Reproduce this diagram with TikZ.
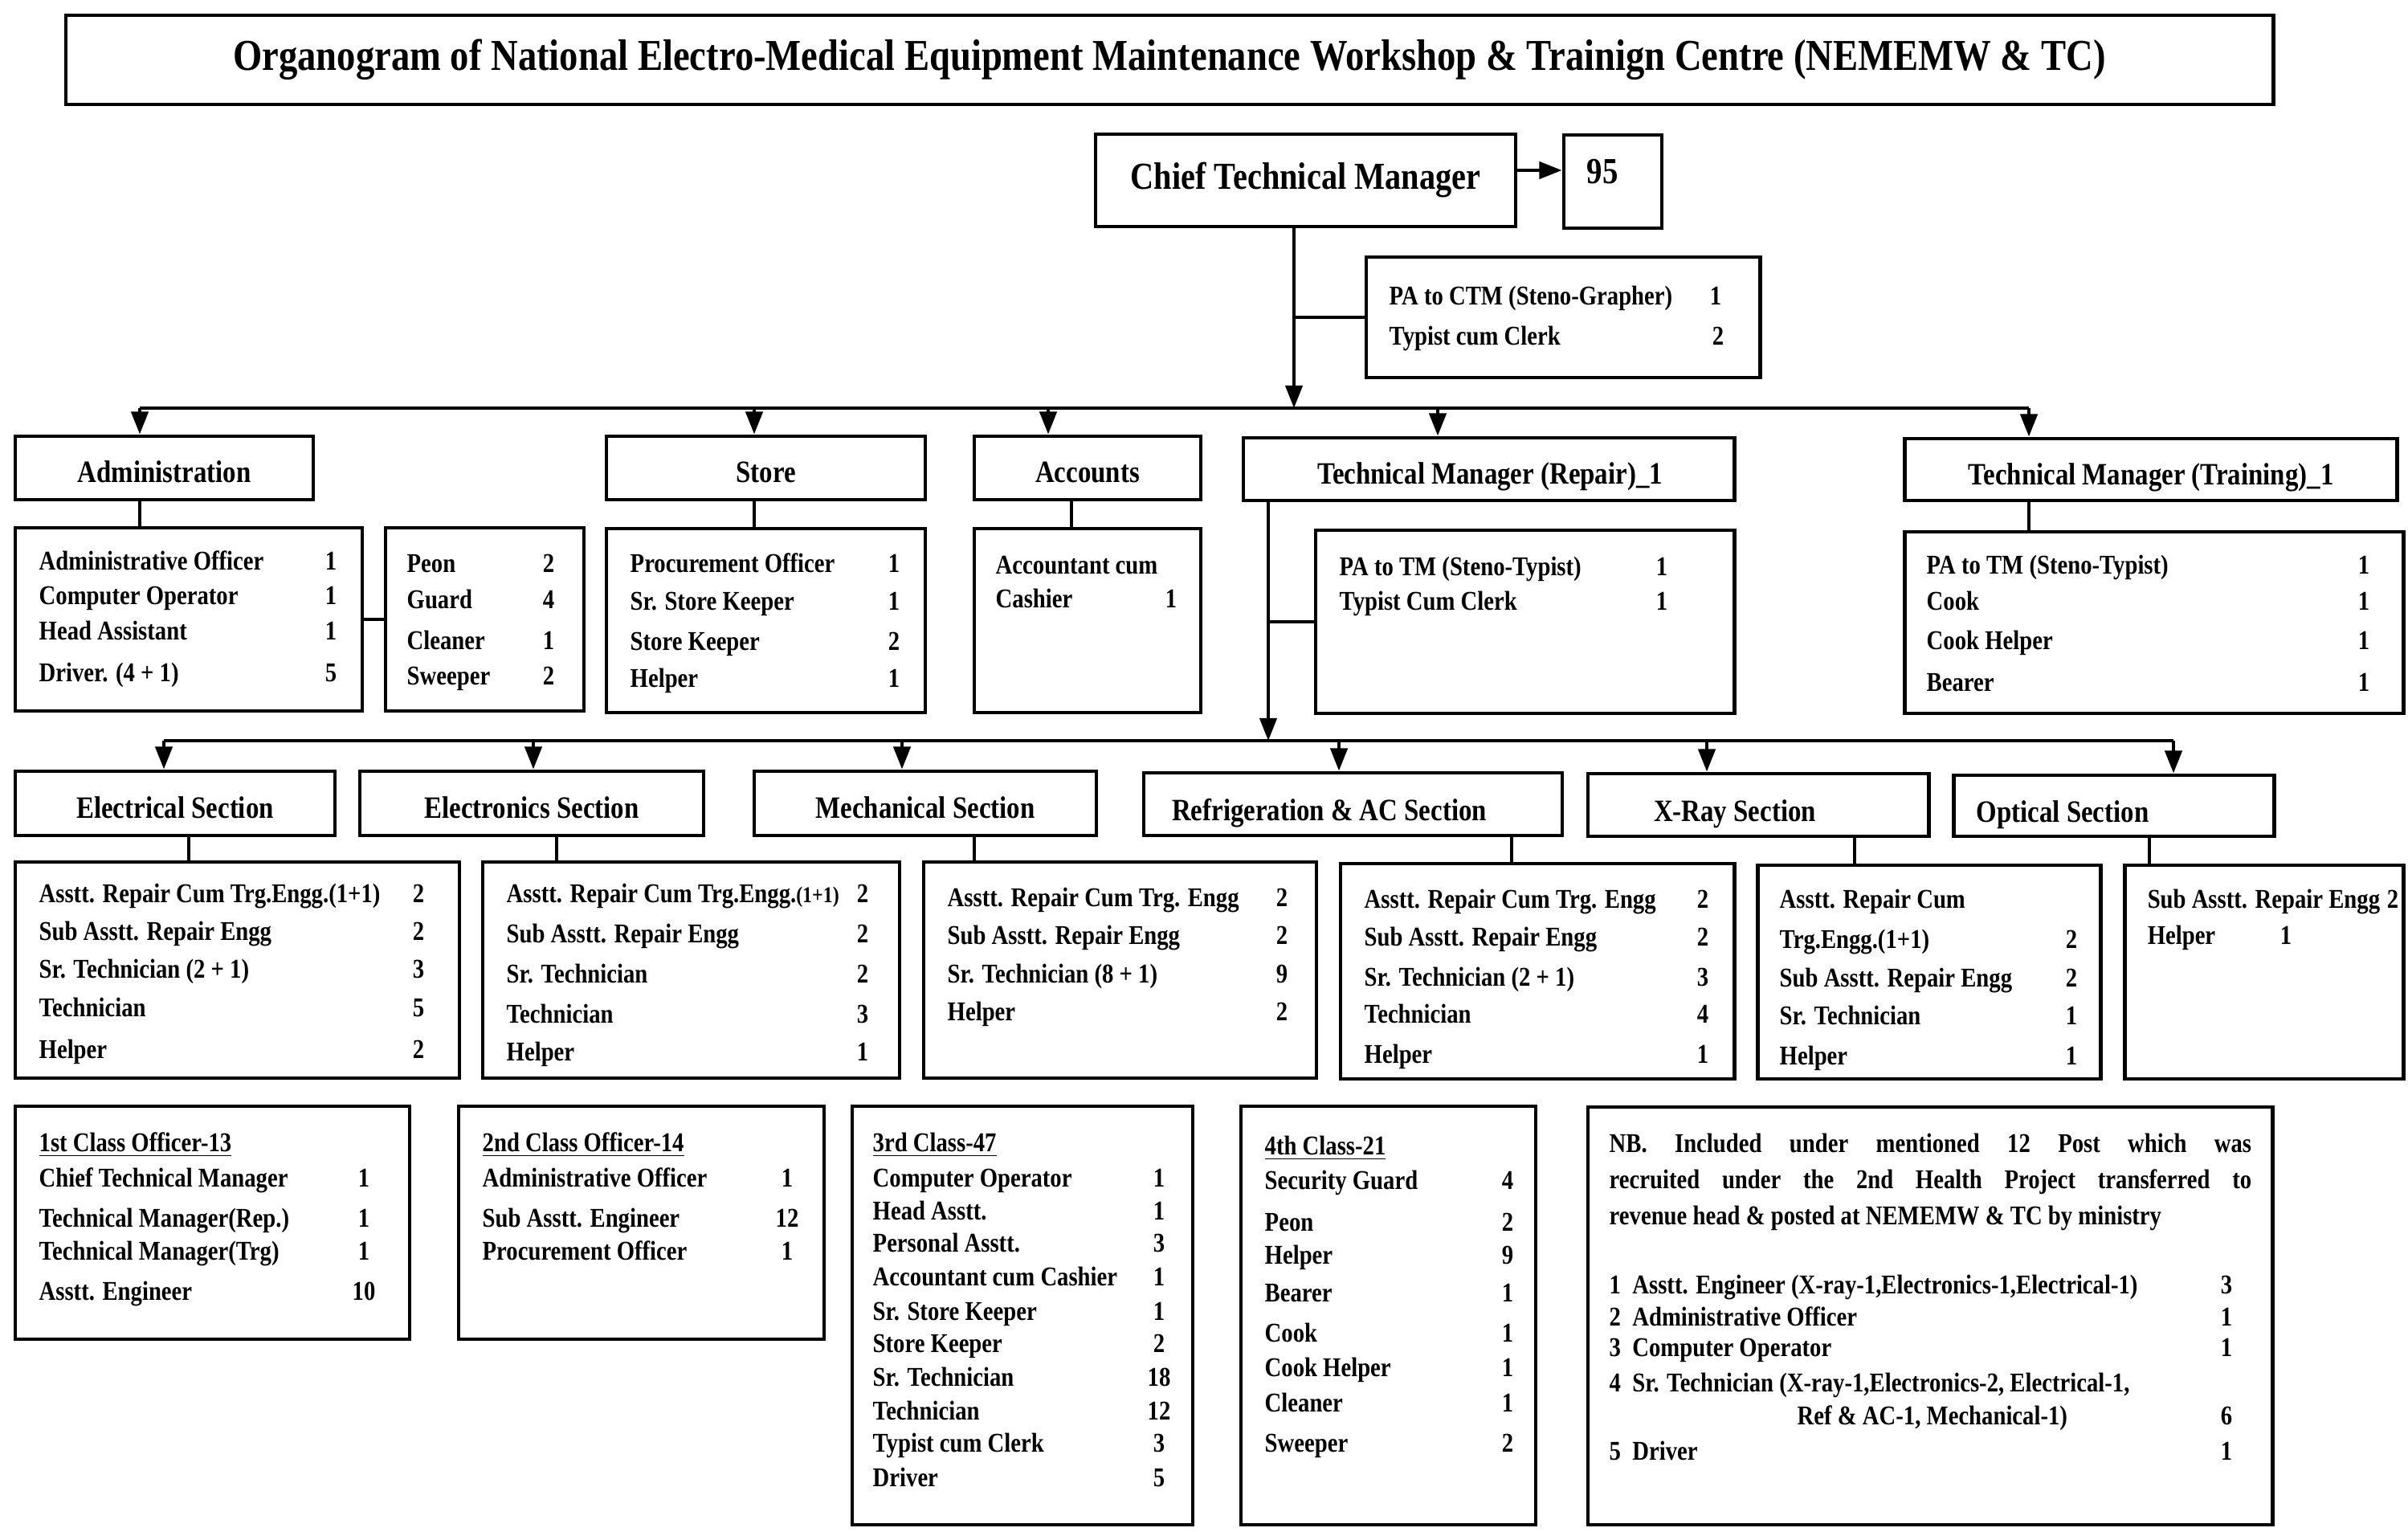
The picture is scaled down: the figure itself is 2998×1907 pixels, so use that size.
\documentclass[tikz,border=0pt]{standalone}
\usepackage{fontspec}
\setmainfont{Liberation Serif}[FakeStretch=0.85]
\usetikzlibrary{arrows.meta,fit}
\newcount\tcnt
\newcommand\mkbox[5]{%
  \coordinate (#1-a) at (#2,#3);
  \coordinate (#1-b) at (#4,#5);
  \node[box, fit=(#1-a)(#1-b)] (#1) {};}
\newcommand\rw[5]{%
  \global\advance\tcnt by 1
  \node[it] (r\the\tcnt) at (#1,#2+10) {#3};
  \if\relax\detokenize{#5}\relax\else
  \global\advance\tcnt by 1
  \node[nu] (r\the\tcnt) at (#4,#2+10) {#5};\fi}
\begin{document}
\begin{tikzpicture}[x=0.01cm,y=-0.01cm,
  box/.style={draw, line width=1.4pt, inner sep=0pt},
  ln/.style={line width=1.2pt},
  arr/.style={line width=1.2pt, -{Triangle[length=8pt,width=6pt]}},
  hd/.style={font=\bfseries\fontsize{11}{13}\selectfont, inner sep=0pt, text height=1.6ex, text depth=0.45ex, yshift=-2.5pt},
  it/.style={font=\bfseries\fontsize{9.6}{12}\selectfont, inner sep=0pt, anchor=base west},
  nu/.style={font=\bfseries\fontsize{9.6}{12}\selectfont, inner sep=0pt, anchor=base}]
\useasboundingbox (0,0) rectangle (2998,1907);
% title
\mkbox{title}{82}{19}{2830}{130}
\node[font=\bfseries\fontsize{15.6}{18}\selectfont, inner sep=0pt] (ttl) at (title) {Organogram of National Electro-Medical Equipment Maintenance Workshop \& Trainign Centre (NEMEMW \& TC)};
% chief
\mkbox{ctm}{1364}{167}{1887}{282}
\node[font=\bfseries\fontsize{13.5}{16}\selectfont, inner sep=0pt] (ctmt) at (ctm) {Chief Technical Manager};
\mkbox{n95}{1947}{168}{2069}{284}
\node[font=\bfseries\fontsize{13}{16}\selectfont, inner sep=0pt] (n95t) at (1995,214) {95};
\coordinate (a95) at (1887,212);
\draw[arr] (a95) -- (a95 -| n95.west);
\mkbox{pa}{1701}{320}{2191}{470}
\rw{1729}{370}{PA to CTM (Steno-Grapher)}{2136}{1}
\rw{1729}{420}{Typist cum Clerk}{2139}{2}
\coordinate (vT) at (1611,508);
\draw[arr] (vT |- ctm.south) -- (vT);
\draw[ln] (vT |- pa.west) -- (pa.west);
% upper row boxes
\mkbox{admin}{19}{543}{390}{622}
\mkbox{store}{755}{543}{1152}{622}
\mkbox{acc}{1213}{543}{1495}{622}
\mkbox{tmr}{1548}{545}{2159}{623}
\mkbox{tmt}{2371}{546}{2984}{623}
\node[hd] (admint) at (admin) {Administration};
\node[hd] (storet) at (store) {Store};
\node[hd] (acct) at (acc) {Accounts};
\node[hd] (tmrt) at (1855,584) {Technical Manager (Repair)\_1};
\node[hd] (tmtt) at (2678,585) {Technical Manager (Training)\_1};
\coordinate (bA) at (174,508);
\coordinate (bS) at (939,508);
\coordinate (bC) at (1305,508);
\coordinate (bR) at (1790,508);
\coordinate (bT) at (2526,508);
\draw[ln] (bA) -- (bT);
\foreach \c/\n in {bA/admin,bS/store,bC/acc,bR/tmr,bT/tmt}
  \draw[arr] (\c) -- (\c |- \n.north);
% upper detail boxes
\mkbox{admind}{19}{657}{451}{885}
\mkbox{peon}{480}{657}{727}{885}
\mkbox{stored}{755}{658}{1152}{887}
\mkbox{accd}{1213}{658}{1495}{887}
\mkbox{tmrd}{1638}{660}{2159}{888}
\mkbox{tmtd}{2371}{662}{2992}{888}
\coordinate (cC) at (1334,600);
\draw[ln] (bA |- admin.south) -- (bA |- admind.north);
\draw[ln] (bS |- store.south) -- (bS |- stored.north);
\draw[ln] (cC |- acc.south) -- (cC |- accd.north);
\draw[ln] (bT |- tmt.south) -- (bT |- tmtd.north);
\draw[ln] (admind.east) -- (peon.west);
\rw{48}{700}{Administrative Officer}{412}{1}
\rw{48}{742}{Computer Operator}{412}{1}
\rw{48}{787}{Head Assistant}{412}{1}
\rw{48}{838}{Driver. (4 + 1)}{412}{5}
\rw{506}{703}{Peon}{683}{2}
\rw{506}{748}{Guard}{683}{4}
\rw{506}{798}{Cleaner}{683}{1}
\rw{506}{842}{Sweeper}{683}{2}
\rw{784}{702}{Procurement Officer}{1113}{1}
\rw{784}{750}{Sr. Store Keeper}{1113}{1}
\rw{784}{800}{Store Keeper}{1113}{2}
\rw{784}{845}{Helper}{1113}{1}
\rw{1239}{705}{Accountant cum}{}{}
\rw{1239}{747}{Cashier}{1458}{1}
\rw{1667}{707}{PA to TM (Steno-Typist)}{2069}{1}
\rw{1667}{750}{Typist Cum Clerk}{2069}{1}
\rw{2398}{705}{PA to TM (Steno-Typist)}{2943}{1}
\rw{2398}{750}{Cook}{2943}{1}
\rw{2398}{798}{Cook Helper}{2943}{1}
\rw{2398}{850}{Bearer}{2943}{1}
% TM repair to sections
\coordinate (vR) at (1579,922);
\draw[arr] (vR |- tmr.south) -- (vR);
\draw[ln] (vR |- tmrd.west) -- (tmrd.west);
% section headers
\mkbox{elec}{19}{960}{417}{1040}
\mkbox{elnx}{448}{960}{876}{1040}
\mkbox{mech}{939}{960}{1365}{1040}
\mkbox{refr}{1424}{962}{1945}{1040}
\mkbox{xray}{1977}{963}{2401}{1041}
\mkbox{opt}{2432}{965}{2831}{1041}
\node[hd] (elect) at (elec) {Electrical Section};
\node[hd] (elnxt) at (elnx) {Electronics Section};
\node[hd] (mecht) at (mech) {Mechanical Section};
\node[hd] (refrt) at (1655,1003) {Refrigeration \& AC Section};
\node[hd] (xrayt) at (2160,1004) {X-Ray Section};
\node[hd, anchor=west] (optt) at (2460,1005) {Optical Section};
\coordinate (lE) at (204,922);
\coordinate (lN) at (664,922);
\coordinate (lM) at (1123,922);
\coordinate (lF) at (1667,922);
\coordinate (lX) at (2125,922);
\coordinate (lO) at (2706,922);
\draw[ln] (lE) -- (lO);
\foreach \c/\n in {lE/elec,lN/elnx,lM/mech,lF/refr,lX/xray,lO/opt}
  \draw[arr] (\c) -- (\c |- \n.north);
% section details
\mkbox{elecd}{19}{1073}{572}{1342}
\mkbox{elnxd}{601}{1073}{1120}{1342}
\mkbox{mechd}{1150}{1073}{1639}{1342}
\mkbox{refrd}{1669}{1075}{2159}{1343}
\mkbox{xrayd}{2188}{1077}{2615}{1343}
\mkbox{optd}{2645}{1077}{2992}{1343}
\coordinate (sE) at (235,1050);
\coordinate (sN) at (693,1050);
\coordinate (sM) at (1213,1050);
\coordinate (sF) at (1882,1050);
\coordinate (sX) at (2309,1050);
\coordinate (sO) at (2676,1050);
\foreach \c/\a/\b in {sE/elec/elecd,sN/elnx/elnxd,sM/mech/mechd,sF/refr/refrd,sX/xray/xrayd,sO/opt/optd}
  \draw[ln] (\c |- \a.south) -- (\c |- \b.north);
\rw{48}{1113}{Asstt. Repair Cum Trg.Engg.(1+1)}{521}{2}
\rw{48}{1160}{Sub Asstt. Repair Engg}{521}{2}
\rw{48}{1207}{Sr. Technician (2 + 1)}{521}{3}
\rw{48}{1255}{Technician}{521}{5}
\rw{48}{1307}{Helper}{521}{2}
\rw{630}{1113}{Asstt. Repair Cum Trg.Engg.{\fontsize{8}{10}\selectfont(1+1)}}{1074}{2}
\rw{630}{1163}{Sub Asstt. Repair Engg}{1074}{2}
\rw{630}{1213}{Sr. Technician}{1074}{2}
\rw{630}{1263}{Technician}{1074}{3}
\rw{630}{1310}{Helper}{1074}{1}
\rw{1179}{1118}{Asstt. Repair Cum Trg. Engg}{1596}{2}
\rw{1179}{1165}{Sub Asstt. Repair Engg}{1596}{2}
\rw{1179}{1213}{Sr. Technician (8 + 1)}{1596}{9}
\rw{1179}{1260}{Helper}{1596}{2}
\rw{1698}{1120}{Asstt. Repair Cum Trg. Engg}{2120}{2}
\rw{1698}{1167}{Sub Asstt. Repair Engg}{2120}{2}
\rw{1698}{1217}{Sr. Technician (2 + 1)}{2120}{3}
\rw{1698}{1263}{Technician}{2120}{4}
\rw{1698}{1313}{Helper}{2120}{1}
\rw{2215}{1120}{Asstt. Repair Cum}{}{}
\rw{2215}{1170}{Trg.Engg.(1+1)}{2579}{2}
\rw{2215}{1218}{Sub Asstt. Repair Engg}{2579}{2}
\rw{2215}{1265}{Sr. Technician}{2579}{1}
\rw{2215}{1315}{Helper}{2579}{1}
\rw{2673}{1120}{Sub Asstt. Repair Engg}{2979}{2}
\rw{2673}{1165}{Helper}{2846}{1}
% class boxes
\mkbox{c1}{19}{1377}{510}{1667}
\mkbox{c2}{571}{1377}{1026}{1667}
\mkbox{c3}{1061}{1377}{1485}{1898}
\mkbox{c4}{1545}{1377}{1912}{1898}
\mkbox{nb}{1977}{1378}{2829}{1898}
\rw{48}{1423}{\underline{1st Class Officer-13}}{}{}
\rw{48}{1467}{Chief Technical Manager}{453}{1}
\rw{48}{1517}{Technical Manager(Rep.)}{453}{1}
\rw{48}{1558}{Technical Manager(Trg)}{453}{1}
\rw{48}{1608}{Asstt. Engineer}{453}{10}
\rw{600}{1423}{\underline{2nd Class Officer-14}}{}{}
\rw{600}{1467}{Administrative Officer}{980}{1}
\rw{600}{1517}{Sub Asstt. Engineer}{980}{12}
\rw{600}{1558}{Procurement Officer}{980}{1}
\rw{1086}{1423}{\underline{3rd Class-47}}{}{}
\rw{1086}{1467}{Computer Operator}{1443}{1}
\rw{1086}{1508}{Head Asstt.}{1443}{1}
\rw{1086}{1548}{Personal Asstt.}{1443}{3}
\rw{1086}{1590}{Accountant cum Cashier}{1443}{1}
\rw{1086}{1633}{Sr. Store Keeper}{1443}{1}
\rw{1086}{1673}{Store Keeper}{1443}{2}
\rw{1086}{1715}{Sr. Technician}{1443}{18}
\rw{1086}{1757}{Technician}{1443}{12}
\rw{1086}{1797}{Typist cum Clerk}{1443}{3}
\rw{1086}{1840}{Driver}{1443}{5}
\rw{1574}{1427}{\underline{4th Class-21}}{}{}
\rw{1574}{1470}{Security Guard}{1877}{4}
\rw{1574}{1522}{Peon}{1877}{2}
\rw{1574}{1563}{Helper}{1877}{9}
\rw{1574}{1610}{Bearer}{1877}{1}
\rw{1574}{1660}{Cook}{1877}{1}
\rw{1574}{1703}{Cook Helper}{1877}{1}
\rw{1574}{1747}{Cleaner}{1877}{1}
\rw{1574}{1797}{Sweeper}{1877}{2}
\node[font=\bfseries\fontsize{9.6}{12.8}\selectfont, inner sep=0pt, anchor=north west, text width=7.99cm, align=justify] (nbt) at (2003,1410) {NB. Included under mentioned 12 Post which was\linebreak recruited under the 2nd Health Project transferred to\linebreak revenue head \& posted at NEMEMW \& TC by ministry};
\rw{2003}{1600}{1\ \ Asstt. Engineer (X-ray-1,Electronics-1,Electrical-1)}{2772}{3}
\rw{2003}{1640}{2\ \ Administrative Officer}{2772}{1}
\rw{2003}{1678}{3\ \ Computer Operator}{2772}{1}
\rw{2003}{1722}{4\ \ Sr. Technician (X-ray-1,Electronics-2, Electrical-1,}{}{}
\rw{2237}{1763}{Ref \& AC-1, Mechanical-1)}{2772}{6}
\rw{2003}{1807}{5\ \ Driver}{2772}{1}
\end{tikzpicture}
\end{document}
